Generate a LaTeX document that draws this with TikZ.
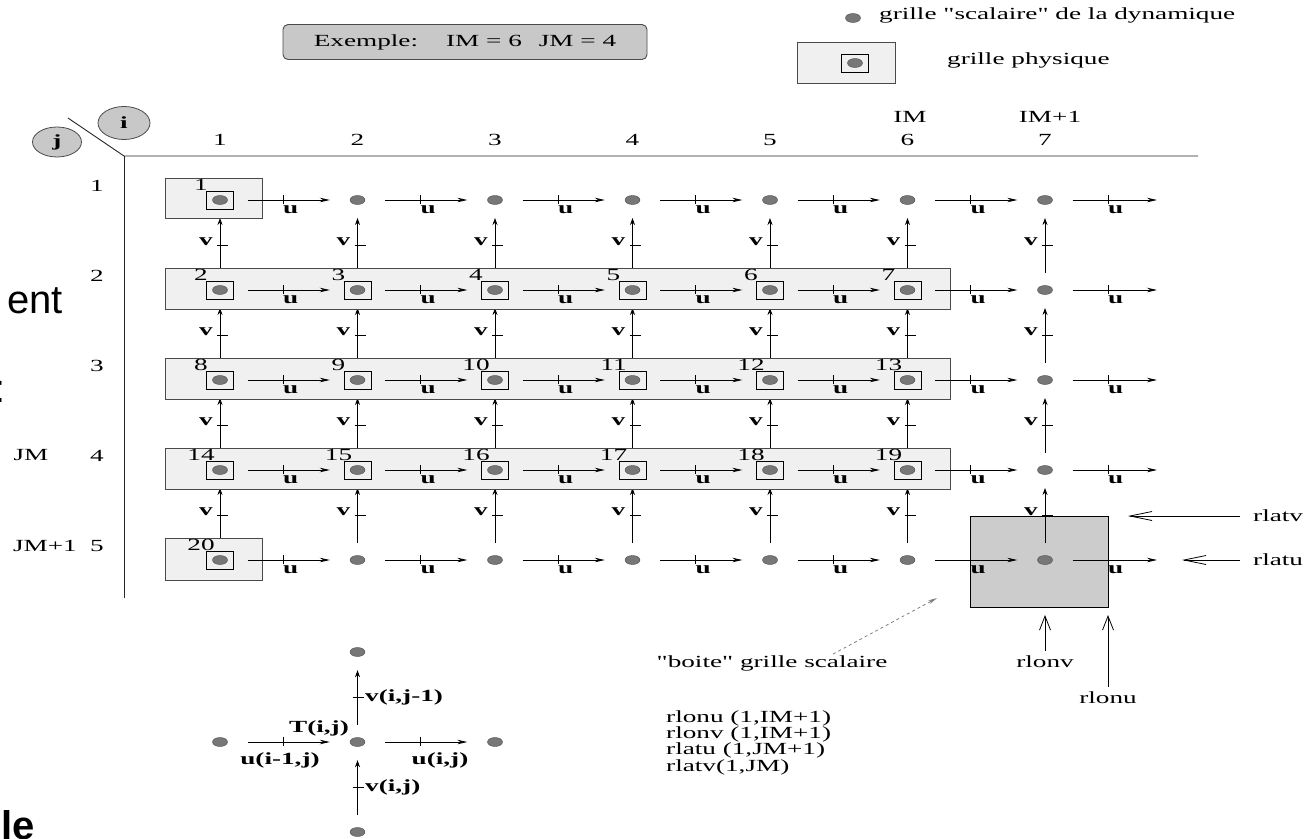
\documentclass[tikz,border=0pt]{standalone}
\usepackage{fontspec}
\setmainfont{Liberation Serif}[FakeStretch=1.6, Ligatures=TeXOff]
\newfontfamily\slidefont{Liberation Sans}
\usetikzlibrary{arrows.meta,shapes.geometric}
\definecolor{boxgray}{HTML}{F0F0F0}
\definecolor{midgray}{HTML}{C8C8C8}
\definecolor{dotgray}{HTML}{777777}
\definecolor{edge}{HTML}{4A4A4A}
\definecolor{boitegray}{HTML}{CCCCCC}
\tikzset{
  base/.style={font=\fontsize{17}{13}\selectfont, text=black, inner sep=1pt},
  lab/.style={base, font=\bfseries\fontsize{17}{13}\selectfont},
  slide/.style={font=\slidefont\fontsize{40}{48}\selectfont, inner sep=0pt},
  dot/.style={ellipse, draw=edge, fill=dotgray, minimum width=15pt, minimum height=9pt, inner sep=0pt},
  sq/.style={rectangle, draw=black, line width=0.9pt, minimum width=27pt, minimum height=18pt, inner sep=0pt},
  physbox/.style={draw=edge, fill=boxgray, line width=0.9pt},
  legbox/.style={rectangle, draw=edge, fill=boxgray, line width=0.9pt, minimum width=98pt, minimum height=41pt},
  example/.style={base, rectangle, rounded corners=5pt, draw=edge, fill=midgray, line width=0.9pt, minimum width=364pt, minimum height=35pt},
  idx/.style={lab, ellipse, draw=edge, fill=midgray, line width=0.8pt, minimum width=52pt, minimum height=33pt, inner sep=0pt},
  boite/.style={rectangle, draw=black, fill=boitegray, line width=0.9pt, minimum width=138pt, minimum height=91pt},
  uarrow/.style={-{Stealth[length=10pt,width=4.5pt]}, line width=0.8pt, shorten <=20pt, shorten >=20pt},
  varrow/.style={-{Stealth[length=7pt,width=5pt]}, line width=0.8pt, shorten <=12.5pt, shorten >=13.5pt},
  vline/.style={varrow, shorten <=17pt, shorten >=18pt},
  tick/.style={line width=0.8pt},
  axis/.style={draw=black!85, line width=0.9pt},
  rarrowh/.style={-{Straight Barb[length=22pt,width=9pt]}, line width=0.8pt},
  rarrowv/.style={-{Straight Barb[length=14pt,width=11pt]}, line width=0.8pt},
  dasharrow/.style={-{Stealth[length=9pt,width=4pt]}, dashed, draw=gray, line width=0.8pt},
}
% one point of the physical grid: square and its number
\newcommand{\physpt}[3]{%
  \node[sq] (s-#1-#2) at (p-#1-#2) {};
  \node[base] (n-#3) at ({201+(#1-1)*137.5},{185+(#2-1)*90}) {#3};}

\begin{document}
\begin{tikzpicture}[x=1pt,y=-1pt]
  \useasboundingbox (0,0) rectangle (1308,838);
  \clip (0,0) rectangle (1308,838);

  % slide text behind the figure
  \node[slide, anchor=base east] (frag1) at (63,313) {ent};
  \node[slide, anchor=base east] (frag2) at (6,402) {:};
  \node[slide, font=\slidefont\bfseries\fontsize{40}{48}\selectfont, anchor=base west] (frag3) at (1,839) {le};

  % header and legend
  \node[example] (ex) at (465,42) {Exemple:\hspace{28pt}IM = 6\hspace{17pt}JM = 4};
  \node[dot] (ldot) at (853,18) {};
  \node[base, anchor=west] (ltxt) at (878,15) {grille "scalaire" de la dynamique};
  \node[legbox] (lbox) at (846,62.5) {};
  \node[sq] (lsq) at (855,63) {};
  \node[dot] (ldot2) at (855,63) {};
  \node[base, anchor=west] (ltxt2) at (946,60) {grille physique};

  % axes
  \coordinate (o) at (124,156);
  \coordinate (xend) at (1198,156);
  \coordinate (yend) at (124,598);
  \coordinate (dg) at (68,118);
  \draw[axis] (dg) -- (o) -- (xend);
  \draw[axis] (o) -- (yend);
  \node[idx] (iidx) at (124,123) {i};
  \node[idx, minimum width=49pt, minimum height=30pt] (jidx) at (57,142) {j};

  \foreach \i in {1,...,7}
    \node[base] (c\i) at ({220+(\i-1)*137.5},140) {\i};
  \node[base] (cim) at (910,117) {IM};
  \node[base] (cim1) at (1050,117) {IM+1};
  \foreach \j in {1,...,5}
    \node[base] (r\j) at (97,{186+(\j-1)*90}) {\j};
  \node[base] (rjm) at (31,455) {JM};
  \node[base] (rjm1) at (45,546) {JM+1};

  % grid positions
  \foreach \i in {1,...,7}
    \foreach \j in {1,...,5}
      \coordinate (p-\i-\j) at ({220+(\i-1)*137.5},{200+(\j-1)*90});

  % v points (under the boxes)
  \foreach \i in {1,...,7}
    \foreach \j in {1,...,4}{
      \draw[tick] ({217+(\i-1)*137.5},{245+(\j-1)*90}) -- ++(11,0);
      \node[lab, anchor=base east] at ({214+(\i-1)*137.5},{245+(\j-1)*90}) {v};
    }
  \node[boite] (bx) at (1039,561.5) {};
  \foreach \i in {1,...,7}
    \foreach \j in {1,...,4}{
      \pgfmathtruncatemacro\k{\j+1}
      \draw[vline] (p-\i-\k) -- (p-\i-\j);
    }

  % physical grid
  \draw[physbox] (165,178) rectangle (262,218);
  \foreach \j in {2,3,4}
    \draw[physbox] (165,{178+(\j-1)*90}) rectangle (950,{219+(\j-1)*90});
  \draw[physbox] (165,538) rectangle (262,580);
  \physpt{1}{1}{1}
  \foreach \j in {2,3,4}
    \foreach \i in {1,...,6}{
      \pgfmathtruncatemacro\n{2+(\j-2)*6+\i-1}
      \physpt{\i}{\j}{\n}
    }
  \physpt{1}{5}{20}

  % scalar grid
  \foreach \i in {1,...,7}
    \foreach \j in {1,...,5}
      \node[dot] (d-\i-\j) at (p-\i-\j) {};

  % u points
  \foreach \j in {1,...,5}{
    \coordinate (e-\j) at (1177,{200+(\j-1)*90});
    \foreach \i in {1,...,6}{
      \pgfmathtruncatemacro\k{\i+1}
      \draw[uarrow] (d-\i-\j) -- (d-\k-\j);
    }
    \draw[uarrow] (d-7-\j) -- (e-\j);
    \foreach \i in {1,...,7}{
      \draw[tick] ({283+(\i-1)*137.5},{195+(\j-1)*90}) -- ++(0,9);
      \node[lab, anchor=base west] at ({282+(\i-1)*137.5},{213+(\j-1)*90}) {u};
    }
  }

  % scalar box and its arrays
  \node[base] (bl) at (772,663) {"boite" grille scalaire};
  \coordinate (bp) at (937,598);
  \draw[dasharrow] ([xshift=61pt]bl.north) -- (bp);
  \node[base, anchor=north west, align=left] (rlist) at (665,709)
    {rlonu (1,IM+1)\\rlonv (1,IM+1)\\rlatu (1,JM+1)\\rlatv(1,JM)};

  \node[base, anchor=west] (rlatv) at (1252,516) {rlatv};
  \node[base, anchor=west] (rlatu) at (1252,560) {rlatu};
  \node[base] (rlonv) at (1045,662) {rlonv};
  \node[base] (rlonu) at (1108,698) {rlonu};
  \coordinate (tv) at (1128,516);
  \coordinate (tu) at (1182,560);
  \coordinate (tn) at (1045,615);
  \coordinate (tnu) at (1108,615);
  \draw[rarrowh, shorten <=12pt] (rlatv.west) -- (tv);
  \draw[rarrowh, shorten <=12pt] (rlatu.west) -- (tu);
  \draw[rarrowv, shorten <=4pt] (rlonv.north) -- (tn);
  \draw[rarrowv, shorten <=4pt] (rlonu.north) -- (tnu);

  % stencil around T(i,j)
  \node[dot] (sT) at (357.5,742) {};
  \node[dot] (sW) at (220,742) {};
  \node[dot] (sE) at (495,742) {};
  \node[dot] (sN) at (357.5,652) {};
  \node[dot] (sS) at (357.5,832) {};
  \draw[uarrow] (sW) -- (sT);
  \draw[uarrow] (sT) -- (sE);
  \draw[varrow] (sT) -- (sN);
  \draw[varrow] (sS) -- (sT);
  \draw[tick] (283,737) -- ++(0,9);
  \draw[tick] (420.5,737) -- ++(0,9);
  \draw[tick] (352.5,697) -- ++(11,0);
  \draw[tick] (352.5,787) -- ++(11,0);
  \node[lab, anchor=east] (tij) at (350,728) {T(i,j)};
  \node[lab] (uim) at (280,760) {u(i-1,j)};
  \node[lab] (uij) at (440,760) {u(i,j)};
  \node[lab, anchor=west] (vijm) at (364,697) {v(i,j-1)};
  \node[lab, anchor=west] (vij) at (364,787) {v(i,j)};
\end{tikzpicture}
\end{document}
